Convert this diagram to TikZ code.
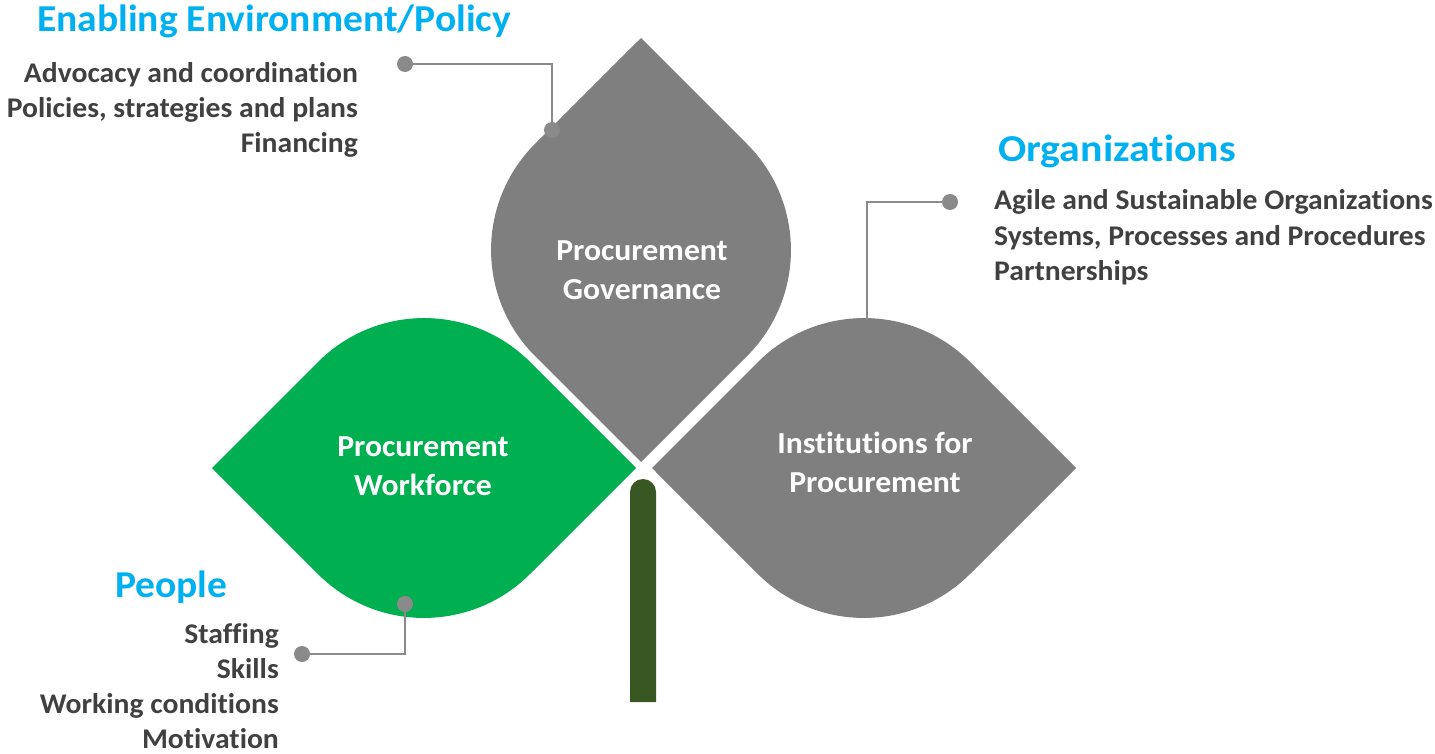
\documentclass[tikz,border=0pt]{standalone}
\usepackage{fontspec}
\setmainfont{Carlito}[Ligatures=NoCommon, FakeStretch=1.04]
\definecolor{leafgray}{HTML}{7F7F7F}
\definecolor{leafgreen}{HTML}{00B050}
\definecolor{stemgreen}{HTML}{385723}
\definecolor{headblue}{HTML}{00B0F0}
\definecolor{bodytext}{HTML}{404040}
\definecolor{linkgray}{HTML}{8A8A8A}
\tikzset{
  leaf/.pic={
    \fill[pic actions] (-212pt,0) -- (-106pt,106pt)
      arc[start angle=135,end angle=45,radius=150pt] -- (212pt,0)
      -- (106pt,-106pt) arc[start angle=-45,end angle=-135,radius=150pt] -- cycle;
  },
  heading/.style={font=\fontsize{38}{44}\selectfont\bfseries, text=headblue, inner sep=0pt, anchor=base west},
  item/.style={font=\fontsize{28.5}{35}\selectfont\bfseries, text=bodytext, inner sep=0pt},
  leaflabel/.style={font=\fontsize{30.5}{39}\selectfont\bfseries, text=white, align=center, inner sep=0pt},
  link/.style={draw=linkgray, line width=2.3pt},
  dot/.style={fill=linkgray},
}
\begin{document}
\begin{tikzpicture}[x=1pt,y=1pt]
\useasboundingbox (0,0) rectangle (1435,-754);

% leaves
\pic[leafgray, rotate=90] at (641,-250) {leaf};
\pic[leafgreen] at (424,-468) {leaf};
\pic[leafgray] at (864,-468) {leaf};

% stem
\fill[stemgreen] (630,-702) -- (630,-492) arc[start angle=180,end angle=0,radius=13pt] -- (656,-702) -- cycle;

% leaf labels
\node[leaflabel] (gov) at (642,-270) {Procurement\\Governance};
\node[leaflabel] (work) at (423,-466) {Procurement\\Workforce};
\node[leaflabel] (inst) at (875,-462) {Institutions for\\Procurement};

% headings
\node[heading] (envhead) at (37,-32) {Enabling Environment/Policy};
\node[heading] (orghead) at (998,-162) {\addfontfeature{FakeStretch=1.1}Organizations};
\node[heading] (pplhead) at (115,-597) {People};

% item lists
\begin{scope}[every node/.append style={item, anchor=base east}]
  \node (env1) at (358,-83) {Advocacy and coordination};
  \node (env2) at (358,-118) {Policies, strategies and plans};
  \node (env3) at (358,-153) {Financing};
  \node (ppl1) at (279,-643) {Staffing};
  \node (ppl2) at (279,-678) {Skills};
  \node (ppl3) at (279,-713) {Working conditions};
  \node (ppl4) at (279,-748) {Motivation};
\end{scope}
\begin{scope}[every node/.append style={item, anchor=base west}]
  \node (org1) at (994,-210) {Agile and Sustainable Organizations};
  \node (org2) at (994,-245) {Systems, Processes and Procedures};
  \node (org3) at (994,-280) {Partnerships};
\end{scope}

% connectors
\coordinate (envdot) at (405,-64);
\coordinate (envbend) at (552,-64);
\coordinate (envleaf) at (552,-130);
\coordinate (orgdot) at (950,-202);
\coordinate (orgbend) at (867,-202);
\coordinate (orgleaf) at (867,-320);
\coordinate (ppldot) at (302,-654);
\coordinate (pplbend) at (405,-654);
\coordinate (pplleaf) at (405,-604);

\draw[link] (envdot) -- (envbend) -- (envleaf);
\fill[dot] (envdot) circle[radius=8pt];
\fill[dot] (envleaf) circle[radius=8pt];
\draw[link] (orgdot) -- (orgbend) -- (orgleaf);
\fill[dot] (orgdot) circle[radius=8pt];
\draw[link] (ppldot) -- (pplbend) -- (pplleaf);
\fill[dot] (ppldot) circle[radius=8pt];
\fill[dot] (pplleaf) circle[radius=8pt];
\end{tikzpicture}
\end{document}
